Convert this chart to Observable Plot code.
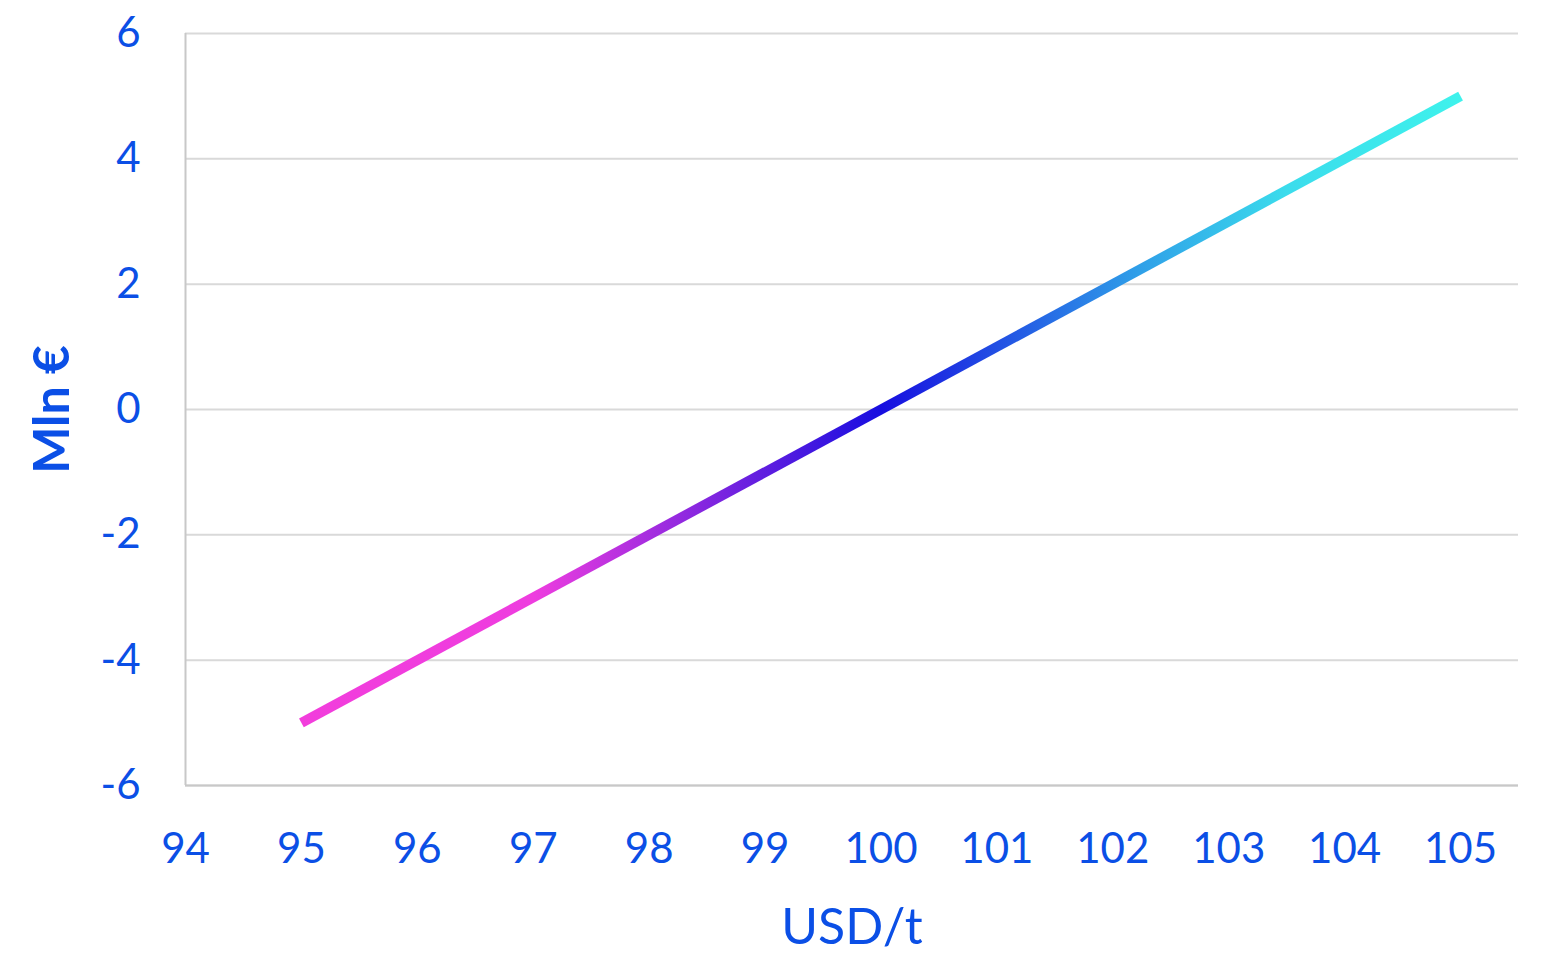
<!DOCTYPE html>
<html><head><meta charset="utf-8">
<script src="https://cdn.jsdelivr.net/npm/d3@7"></script>
<script src="https://cdn.jsdelivr.net/npm/@observablehq/plot@0.6"></script>
<style>body{margin:0;background:#fff;} svg{font-family:Lato,"Open Sans",sans-serif;}</style>
</head><body><div id="chart"></div>
<script>
const priceUSD = [95, 105];
const impactMln = [-5, 5];
const xTicks = [94, 95, 96, 97, 98, 99, 100, 101, 102, 103, 104, 105];
const yTicks = [-6, -4, -2, 0, 2, 4, 6];
const xTitle = "USD/t";
const yTitle = "Mln €";

const data = priceUSD.map((x, i) => ({x, y: impactMln[i]}));
const blue = "#0b4fe6";

const chart = Plot.plot({
  width: 1548, height: 960,
  marginLeft: 185, marginRight: 30, marginTop: 33, marginBottom: 175,
  style: {fontFamily: "Lato, 'Open Sans', sans-serif", background: "white"},
  x: {domain: [94, 105.5]},
  y: {domain: [-6, 6]},
  marks: [
    Plot.gridY(yTicks, {stroke: "#d9d9d9", strokeOpacity: 1, strokeWidth: 2}),
    Plot.ruleX([94], {stroke: "#c8c8c8", strokeWidth: 2}),
    Plot.ruleY([-6], {stroke: "#c8c8c8", strokeWidth: 2}),
    Plot.axisY(yTicks, {tickSize: 0, tickPadding: 45, label: null, fontSize: 42, fill: blue, tickFormat: d => String(d)}),
    Plot.axisX(xTicks, {tickSize: 0, tickPadding: 48, label: null, fontSize: 42, fill: blue, tickFormat: d => String(d)}),
    Plot.line(data, {x: "x", y: "y", stroke: "url(#lineGrad)", strokeWidth: 10, strokeLinecap: "butt"}),
    Plot.text([yTitle], {frameAnchor: "left", textAnchor: "middle", text: d => d, rotate: -90, dx: -133, fontSize: 50, fontWeight: "bold", fill: blue}),
    Plot.text([xTitle], {frameAnchor: "bottom", text: d => d, dy: 158, fontSize: 50, fill: blue})
  ]
});

const ns = "http://www.w3.org/2000/svg";
const defs = document.createElementNS(ns, "defs");
const grad = document.createElementNS(ns, "linearGradient");
grad.setAttribute("id", "lineGrad");
grad.setAttribute("x1", "0"); grad.setAttribute("y1", "0");
grad.setAttribute("x2", "1"); grad.setAttribute("y2", "0");
[[0, "#f23ddc"], [0.2, "#ee3ddf"], [0.5, "#170ee0"], [0.72, "#2f9ee8"], [0.85, "#3bdcec"], [1, "#3ef2ec"]].forEach(([o, c]) => {
  const s = document.createElementNS(ns, "stop");
  s.setAttribute("offset", o); s.setAttribute("stop-color", c);
  grad.appendChild(s);
});
defs.appendChild(grad);
chart.insertBefore(defs, chart.firstChild);
document.getElementById("chart").appendChild(chart);
</script></body></html>
